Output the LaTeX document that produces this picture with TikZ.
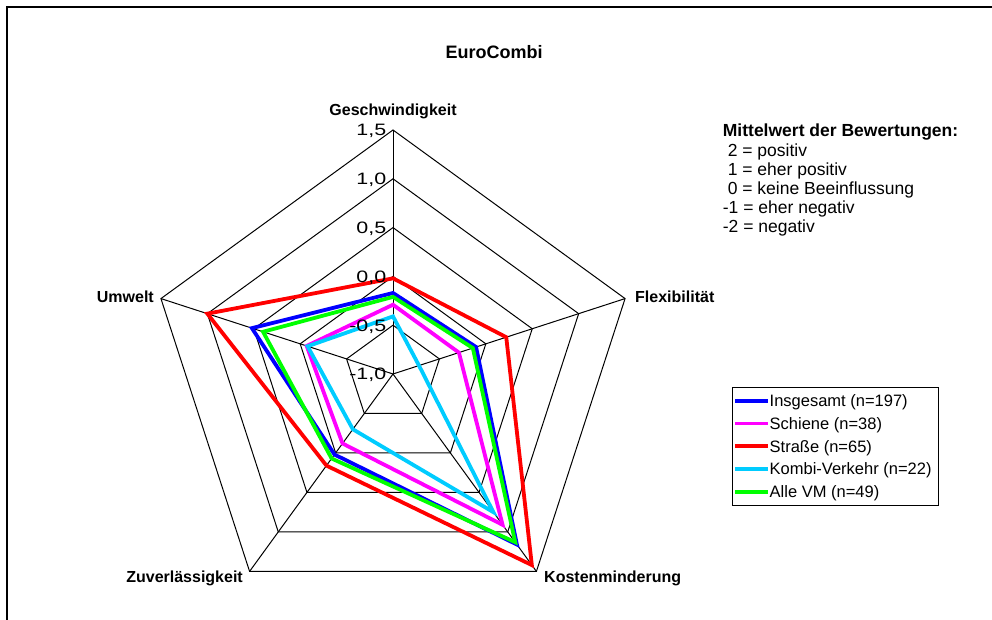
\documentclass[tikz,border=0pt]{standalone}
\usepackage{fontspec}
\setmainfont{Liberation Sans}
\definecolor{sBlue}{RGB}{0,0,255}
\definecolor{sMag}{RGB}{255,0,255}
\definecolor{sRed}{RGB}{255,0,0}
\definecolor{sCyan}{RGB}{0,204,255}
\definecolor{sGreen}{RGB}{0,255,0}
\newcommand\radarpoly[6]{\draw[serie,#1] (90:{(#2+1)*97.6}) -- (18:{(#3+1)*97.6}) -- (-54:{(#4+1)*97.6}) -- (-126:{(#5+1)*97.6}) -- (162:{(#6+1)*97.6}) -- cycle;}
\begin{document}
\begin{tikzpicture}[x=1pt,y=1pt,
  gridline/.style={black, line width=1pt},
  serie/.style={line width=3.8pt, line join=miter},
  axlabel/.style={font=\bfseries\fontsize{16}{19}\selectfont, inner sep=0pt},
  ticklabel/.style={font=\fontsize{16.5}{19}\selectfont, inner sep=0pt, anchor=base east, xscale=1.3, transform shape},
  note/.style={font=\fontsize{17.5}{20}\selectfont, inner sep=0pt, anchor=base west},
  legtext/.style={font=\fontsize{16.5}{19}\selectfont, inner sep=0pt, anchor=base west},
  legline/.style={line width=3.8pt},
]
\useasboundingbox (0,0) rectangle (992,620);
\fill[white] (0,0) rectangle (992,620);
\draw[line width=2pt] (6.5,-5) -- (6.5,612.5) -- (1000,612.5);
% title
\node[font=\bfseries\fontsize{18}{20}\selectfont, inner sep=0pt, anchor=base] (title) at (494,561.5) {EuroCombi};
% radar
\begin{scope}[shift={(393,246)}]
  \coordinate (O) at (0,0);
  \foreach \r in {48.8,97.6,146.4,195.2,244}
    \draw[gridline] (90:\r) -- (18:\r) -- (-54:\r) -- (-126:\r) -- (162:\r) -- cycle;
  \foreach \a/\n in {90/G,18/F,-54/K,-126/Z,162/U}
    \draw[gridline] (O) -- (\a:244) coordinate (ax\n);
  \radarpoly{sBlue}{-0.17}{-0.105}{1.16}{0.02}{0.52}
  \radarpoly{sMag}{-0.29}{-0.29}{0.91}{-0.12}{-0.07}
  \radarpoly{sRed}{-0.02}{0.22}{1.42}{0.16}{1.0}
  \radarpoly{sCyan}{-0.41}{-0.72}{0.75}{-0.30}{-0.08}
  \radarpoly{sGreen}{-0.21}{-0.14}{1.13}{0.07}{0.40}
  \foreach \r/\t [count=\i] in {0/{-1,0},48.8/{-0,5},97.6/{0,0},146.4/{0,5},195.2/{1,0},244/{1,5}}
    \node[ticklabel] (tick\i) at (-6.5,\r-5.9) {\t};
\end{scope}
% axis labels
\node[axlabel, anchor=base] (lG) at (393,504.3) {Geschwindigkeit};
\node[axlabel, anchor=base west] (lF) at (635,317) {Flexibilität};
\node[axlabel, anchor=base east] (lU) at (154,317) {Umwelt};
\node[axlabel, anchor=base east] (lZ) at (243,37.3) {Zuverlässigkeit};
\node[axlabel, anchor=base west] (lK) at (544,37.3) {Kostenminderung};
% note
\node[note, font=\bfseries\fontsize{17.5}{20}\selectfont] (n0) at (722.7,483) {Mittelwert der Bewertungen:};
\node[note] (n1) at (722.7,463.8) {\hspace{4.9pt}2 = positiv};
\node[note] (n2) at (722.7,444.6) {\hspace{4.9pt}1 = eher positiv};
\node[note] (n3) at (722.7,425.4) {\hspace{4.9pt}0 = keine Beeinflussung};
\node[note] (n4) at (722.7,406.2) {-1 = eher negativ};
\node[note] (n5) at (722.7,387) {-2 = negativ};
% legend
\node[draw=black, line width=0.9pt, minimum width=206pt, minimum height=117.7pt, anchor=north west, inner sep=0pt] (legend) at (731.7,232.7) {};
\foreach \c/\t [count=\i] in {sBlue/{Insgesamt (n=197)},sMag/{Schiene (n=38)},sRed/{Straße (n=65)},sCyan/{Kombi-Verkehr (n=22)},sGreen/{Alle VM (n=49)}}{
  \coordinate (ls\i) at (735,{219.3-22.75*(\i-1)});
  \coordinate (le\i) at (768.3,{219.3-22.75*(\i-1)});
  \draw[legline,\c] (ls\i) -- (le\i);
  \node[legtext] (lt\i) at (769.5,{219.3-22.75*(\i-1)-5.9}) {\t};
}
\end{tikzpicture}
\end{document}
